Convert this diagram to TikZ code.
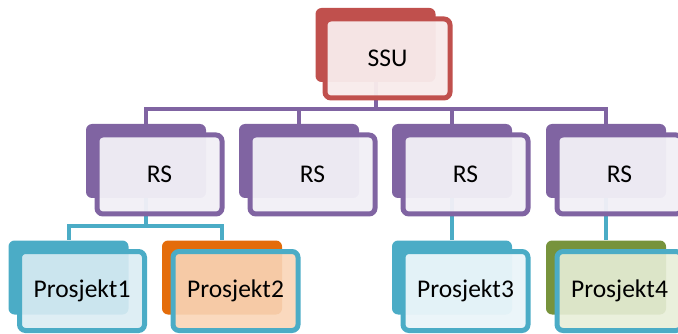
\documentclass[tikz,border=0pt]{standalone}
\usepackage{fontspec}
\setmainfont{Carlito}
\usetikzlibrary{positioning}

\definecolor{ssured}{HTML}{C0504D}
\definecolor{rspurple}{HTML}{8064A2}
\definecolor{pteal}{HTML}{4BACC6}
\definecolor{porange}{HTML}{E46C0A}
\definecolor{pgreen}{HTML}{77933C}
\definecolor{ssufill}{HTML}{F8EBEB}
\definecolor{rsfill}{HTML}{F1EFF6}
\definecolor{pfillA}{HTML}{DAECF3}
\definecolor{pfillB}{HTML}{F9D5B7}
\definecolor{pfillC}{HTML}{EAF5F9}
\definecolor{pfillD}{HTML}{E8EED8}

\tikzset{
  backbox/.style={rectangle, rounded corners=6pt, fill=#1, inner sep=0pt,
    minimum width=120pt, minimum height=74pt},
  frontbox/.style 2 args={rectangle, rounded corners=6pt, draw=#1, fill=#2,
    line width=5pt, fill opacity=0.9, text opacity=1, inner sep=0pt,
    minimum width=125pt, minimum height=79pt,
    font=\fontsize{25.5}{30}\selectfont},
  solidfront/.style={fill opacity=0.96},
  bus/.style={draw=#1, line width=4pt}
}

\begin{document}
\begin{tikzpicture}[x=1pt, y=-1pt]
\useasboundingbox (0,0) rectangle (678,334);

% back boxes
\node[backbox=ssured] (ssuB) at (375.5,45) {};
\node[backbox=rspurple] (rs1B) at (146,161) {};
\node[backbox=rspurple] (rs2B) at (299,161) {};
\node[backbox=rspurple] (rs3B) at (452,161) {};
\node[backbox=rspurple] (rs4B) at (606,161) {};
\node[backbox=pteal] (p1B) at (68.5,277.5) {};
\node[backbox=porange] (p2B) at (222,277.5) {};
\node[backbox=pteal] (p3B) at (452,277.5) {};
\node[backbox=pgreen] (p4B) at (606,277.5) {};

% connectors
\draw[bus=rspurple] (ssuB.south) -- ++(0,27) -| (rs1B.north);
\draw[bus=rspurple] (ssuB.south) -- ++(0,27) -| (rs2B.north);
\draw[bus=rspurple] (ssuB.south) -- ++(0,27) -| (rs3B.north);
\draw[bus=rspurple] (ssuB.south) -- ++(0,27) -| (rs4B.north);
\draw[bus=pteal] (rs1B.south) -- ++(0,27.5) -| (p1B.north);
\draw[bus=pteal] (rs1B.south) -- ++(0,27.5) -| (p2B.north);
\draw[bus=pteal] (rs3B.south) -- (p3B.north);
\draw[bus=pteal] (rs4B.south) -- (p4B.north);

% front boxes
\node[frontbox={ssured}{ssufill}, solidfront] (ssu) at ([shift={(12,13.5)}]ssuB.center) {SSU};
\node[frontbox={rspurple}{rsfill}, solidfront] (rs1) at ([shift={(13.5,13.5)}]rs1B.center) {RS};
\node[frontbox={rspurple}{rsfill}, solidfront] (rs2) at ([shift={(13.5,13.5)}]rs2B.center) {RS};
\node[frontbox={rspurple}{rsfill}, solidfront] (rs3) at ([shift={(13.5,13.5)}]rs3B.center) {RS};
\node[frontbox={rspurple}{rsfill}, solidfront] (rs4) at ([shift={(13.5,13.5)}]rs4B.center) {RS};
\node[frontbox={pteal}{pfillA}] (p1) at ([shift={(13.5,13.5)}]p1B.center) {Prosjekt1};
\node[frontbox={pteal}{pfillB}] (p2) at ([shift={(13.5,13.5)}]p2B.center) {Prosjekt2};
\node[frontbox={pteal}{pfillC}, solidfront] (p3) at ([shift={(13.5,13.5)}]p3B.center) {Prosjekt3};
\node[frontbox={pteal}{pfillD}] (p4) at ([shift={(13.5,13.5)}]p4B.center) {Prosjekt4};
\end{tikzpicture}
\end{document}
